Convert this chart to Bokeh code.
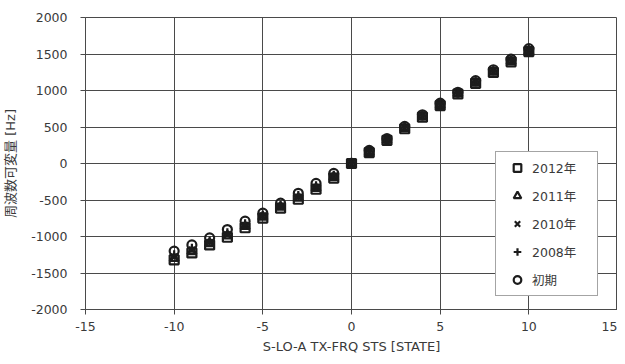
from bokeh.plotting import figure
from bokeh.models import Legend, LegendItem, FixedTicker, Range1d
from bokeh.embed import file_html
from bokeh.resources import INLINE

# data
states = [-10, -9, -8, -7, -6, -5, -4, -3, -2, -1, 0, 1, 2, 3, 4, 5, 6, 7, 8, 9, 10]
y2012 = [-1320, -1225, -1115, -1010, -880, -748, -612, -490, -353, -200, 0, 150, 317, 476, 635, 793, 952, 1098, 1248, 1393, 1533]
y2011 = [-1300, -1205, -1095, -990, -862, -732, -598, -475, -340, -188, 0, 155, 320, 480, 640, 798, 956, 1103, 1253, 1398, 1538]
y2010 = [-1280, -1185, -1080, -975, -848, -720, -588, -462, -328, -178, 0, 160, 325, 486, 646, 804, 961, 1110, 1260, 1405, 1545]
y2008 = [-1250, -1160, -1060, -950, -825, -705, -570, -440, -305, -160, 0, 168, 330, 495, 655, 814, 967, 1120, 1270, 1415, 1558]
yinit = [-1200, -1115, -1020, -905, -790, -680, -544, -408, -272, -135, 0, 180, 340, 508, 667, 826, 976, 1134, 1284, 1429, 1574]
labels = ["2012年", "2011年", "2010年", "2008年", "初期"]
x_ticks = [-15, -10, -5, 0, 5, 10, 15]
y_ticks = [-2000, -1500, -1000, -500, 0, 500, 1000, 1500, 2000]

FONT = "DejaVu Sans, Noto Sans CJK JP"
LATIN = "DejaVu Sans"
TXT = "#3a3a3a"
GRID = "#4a4a4a"
MK = "#1c1c1c"

p = figure(width=617, height=356, output_backend="svg", toolbar_location=None,
           x_range=Range1d(-15, 15), y_range=Range1d(-2000, 2000),
           min_border_left=79, min_border_right=0, min_border_top=17, min_border_bottom=38)

p.background_fill_color = "white"
p.border_fill_color = "white"
p.outline_line_color = GRID
p.outline_line_width = 1

p.xaxis.ticker = FixedTicker(ticks=x_ticks)
p.yaxis.ticker = FixedTicker(ticks=y_ticks)
p.xaxis.major_label_overrides = {t: str(t) for t in x_ticks}
p.yaxis.major_label_overrides = {t: str(t) for t in y_ticks}
p.xgrid.ticker = FixedTicker(ticks=[-10, -5, 0, 5, 10])
p.ygrid.ticker = FixedTicker(ticks=y_ticks[1:-1])
for g in (p.xgrid, p.ygrid):
    g.grid_line_color = GRID
    g.grid_line_width = 1

for ax in (p.xaxis, p.yaxis):
    ax.axis_line_color = GRID
    ax.major_tick_line_color = GRID
    ax.minor_tick_line_color = None
    ax.major_tick_in = 0
    ax.major_tick_out = 5
    ax.major_label_text_font = LATIN
    ax.major_label_text_font_size = "12.5px"
    ax.major_label_text_color = TXT
    ax.axis_label_text_font_size = "13px"
    ax.axis_label_text_color = TXT
    ax.axis_label_text_font_style = "normal"

p.xaxis.axis_label_text_font = LATIN
p.yaxis.axis_label_text_font = FONT
p.xaxis.axis_label = "S-LO-A TX-FRQ STS [STATE]"
p.yaxis.axis_label = "周波数可変量 [Hz]"
p.xaxis.major_label_standoff = 7
p.yaxis.major_label_standoff = 13
p.xaxis.axis_label_standoff = 5
p.yaxis.axis_label_standoff = 10

series = [(y2012, "square"), (y2011, "triangle"), (y2010, "x"), (y2008, "cross"), (yinit, "circle")]
renderers = []
for ys, mk in series:
    r = p.scatter(states, ys, marker=mk, size=9, line_color=MK, line_width=2.2, fill_color=None)
    renderers.append(r)

legend = Legend(items=[LegendItem(label=l, renderers=[r]) for l, r in zip(labels, renderers)],
                location=(410, 13), padding=6, spacing=9,
                glyph_width=30, glyph_height=19, label_height=15, label_width=59,
                label_standoff=0,
                label_text_font=FONT, label_text_font_size="12.5px", label_text_color=TXT,
                border_line_color=GRID, border_line_width=1,
                background_fill_color="white", background_fill_alpha=1.0)
p.add_layout(legend, "center")

open("out.html", "w").write(file_html(p, INLINE))
